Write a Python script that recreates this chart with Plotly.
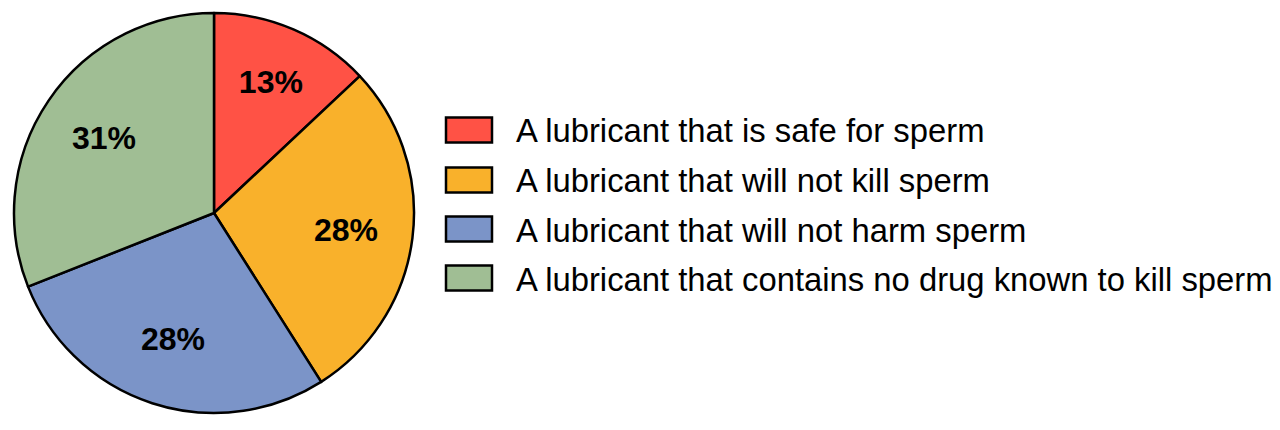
import plotly.graph_objects as go

labels = [
    "A lubricant that is safe for sperm",
    "A lubricant that will not kill sperm",
    "A lubricant that will not harm sperm",
    "A lubricant that contains no drug known to kill sperm",
]
values = [13, 28, 28, 31]
text_labels = ["13%", "28%", "28%", "31%"]
colors = ["#FF5245", "#F9B12B", "#7B94C8", "#A0BE94"]

W, H = 1280, 430
OFF = 8  # page body margin offset in the screenshot

def px_x(x):
    return (x - OFF) / W

def px_y(y):
    return 1 - (y - OFF) / H

dom = dict(x=[px_x(14), px_x(414)], y=[px_y(413), px_y(13)])

fig = go.Figure()
# filled pie with outlines, no text
fig.add_trace(go.Pie(
    labels=labels, values=values,
    textinfo="none",
    marker=dict(colors=colors, line=dict(color="black", width=2.5)),
    sort=False, direction="clockwise", rotation=0,
    domain=dom, showlegend=False, hoverinfo="label+percent",
))
# transparent ring carrying the percentage labels further out
fig.add_trace(go.Pie(
    labels=labels, values=values, text=text_labels,
    textinfo="text", textposition="inside",
    insidetextorientation="horizontal",
    insidetextfont=dict(family="Liberation Sans, Arial", size=32, color="black", weight="bold"),
    marker=dict(colors=["rgba(0,0,0,0)"] * len(values), line=dict(width=0)),
    hole=0.33,
    sort=False, direction="clockwise", rotation=0,
    domain=dom, showlegend=False, hoverinfo="skip",
))

# manual legend with large swatches
row_y = [130, 180, 229, 278]
shapes = []
annotations = []
for i, (lab, col) in enumerate(zip(labels, colors)):
    yc = row_y[i]
    shapes.append(dict(
        type="rect", xref="paper", yref="paper",
        x0=px_x(446), x1=px_x(492), y0=px_y(yc + 12.5), y1=px_y(yc - 12.5),
        fillcolor=col, line=dict(color="black", width=2.5),
    ))
    annotations.append(dict(
        x=px_x(514), y=px_y(yc + 1), xref="paper", yref="paper",
        xanchor="left", yanchor="middle", showarrow=False,
        text=lab, font=dict(family="Liberation Sans, Arial", size=32.8, color="black"),
    ))

fig.update_layout(
    width=W, height=H,
    margin=dict(l=0, r=0, t=0, b=0),
    paper_bgcolor="white",
    plot_bgcolor="white",
    shapes=shapes,
    annotations=annotations,
    uniformtext=dict(minsize=32, mode="show"),
)

fig.write_html("out.html")
